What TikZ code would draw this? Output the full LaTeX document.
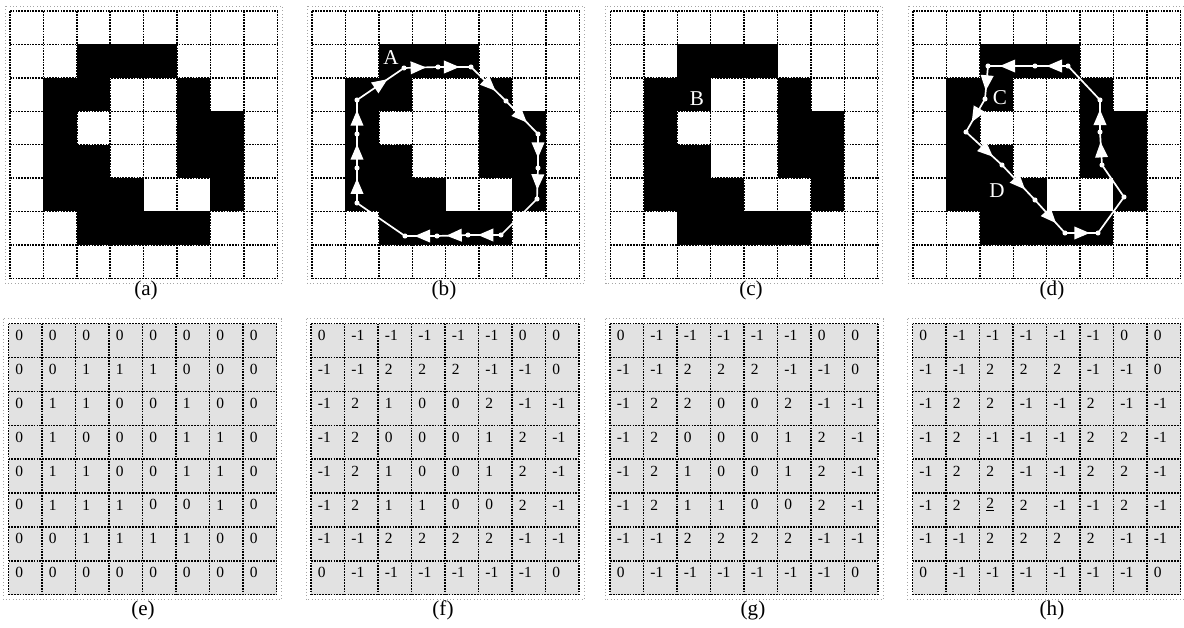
\documentclass[tikz,border=0pt]{standalone}
\usepackage{fontspec}
\setmainfont{Liberation Serif}
\usepackage{xcolor}
\usepackage{tikz}
\usetikzlibrary{arrows.meta, decorations.markings}
\definecolor{framegray}{RGB}{165, 165, 165}
\definecolor{cellgray}{RGB}{226, 226, 226}

% values written in the lower grids (e)-(h)
\newcommand{\valsE}{{0,0,0,0,0,0,0,0},{0,0,1,1,1,0,0,0},{0,1,1,0,0,1,0,0},{0,1,0,0,0,1,1,0},%
  {0,1,1,0,0,1,1,0},{0,1,1,1,0,0,1,0},{0,0,1,1,1,1,0,0},{0,0,0,0,0,0,0,0}}
\newcommand{\valsF}{{0,-1,-1,-1,-1,-1,0,0},{-1,-1,2,2,2,-1,-1,0},{-1,2,1,0,0,2,-1,-1},{-1,2,0,0,0,1,2,-1},%
  {-1,2,1,0,0,1,2,-1},{-1,2,1,1,0,0,2,-1},{-1,-1,2,2,2,2,-1,-1},{0,-1,-1,-1,-1,-1,-1,0}}
\newcommand{\valsG}{{0,-1,-1,-1,-1,-1,0,0},{-1,-1,2,2,2,-1,-1,0},{-1,2,2,0,0,2,-1,-1},{-1,2,0,0,0,1,2,-1},%
  {-1,2,1,0,0,1,2,-1},{-1,2,1,1,0,0,2,-1},{-1,-1,2,2,2,2,-1,-1},{0,-1,-1,-1,-1,-1,-1,0}}
\newcommand{\valsH}{{0,-1,-1,-1,-1,-1,0,0},{-1,-1,2,2,2,-1,-1,0},{-1,2,2,-1,-1,2,-1,-1},{-1,2,-1,-1,-1,2,2,-1},%
  {-1,2,2,-1,-1,2,2,-1},{-1,2,\underline{2},2,-1,-1,2,-1},{-1,-1,2,2,2,2,-1,-1},{0,-1,-1,-1,-1,-1,-1,0}}

\tikzset{
  gridline/.style={black, line width=1pt, dash pattern=on 1.2pt off 0.8pt},
  outerframe/.style={framegray, line width=0.4pt, dotted},
  trace/.style={white, line width=1.2pt},
  midarrow/.style={postaction={decorate}, decoration={markings,
      mark=at position #1 with {\arrow{Triangle[length=11pt, width=9pt]}}}},
  midarrow/.default=0.6,
  cellnum/.style={anchor=west, inner sep=0pt, font=\fontsize{11}{11}\selectfont},
  sublabel/.style={inner sep=0pt, font=\fontsize{15}{15}\selectfont},
  pointlabel/.style={white, inner sep=0pt, font=\fontsize{15}{15}\selectfont},
}

\begin{document}
\begin{tikzpicture}[x=0.025cm, y=-0.025cm]
  \fill[white] (0,0) rectangle (1184,627);
  \useasboundingbox (0,0) rectangle (1184,627);

  % upper row: the binary image, four times
  \foreach \gx/\lab/\lx in {10/a/146, 312/b/444, 610.5/c/751, 913/d/1052} {
    \draw[outerframe] ({\gx-5},6) rectangle ({\gx+272.2},283.2);
    \foreach \r/\c in {1/2,1/3,1/4, 2/1,2/2,2/5, 3/1,3/5,3/6, 4/1,4/2,4/5,4/6,
                       5/1,5/2,5/3,5/6, 6/2,6/3,6/4,6/5}
      \fill[black] ({\gx+\c*33.4},{11+\r*33.4}) rectangle ++(33.4,33.4);
    \foreach \k in {0,...,8} {
      \draw[gridline] ({\gx+\k*33.4},11) -- ++(0,267.2);
      \draw[gridline] (\gx,{11+\k*33.4}) -- ++(267.2,0);
    }
    \node[sublabel] (cap\lab) at (\lx,290) {(\lab)};
  }

  % lower row: grids of values
  \foreach \gx/\lab/\lx/\mat in {8.5/e/143/E, 311/f/443/F, 610/g/753/G, 912.5/h/1052/H} {
    \draw[outerframe] ({\gx-5},318.5) rectangle ({\gx+273},599.7);
    \fill[cellgray] (\gx,323.5) rectangle ++(268,271.2);
    \foreach \k in {0,...,8} {
      \draw[gridline] ({\gx+\k*33.5},323.5) -- ++(0,271.2);
      \draw[gridline] (\gx,{323.5+\k*33.9}) -- ++(268,0);
    }
    \expandafter\let\expandafter\cellvals\csname vals\mat\endcsname
    \foreach \rowvals [count=\r from 0] in \cellvals
      \foreach \v [count=\c from 0] in \rowvals
        \node[cellnum] (n\lab\r\c) at ({\gx+\c*33.5+6.7},{323.5+\r*33.9+11.9}) {\v};
    \node[sublabel] (cap\lab) at (\lx,610) {(\lab)};
  }

  % contour traced in (b)
  \coordinate (b1) at (404,68);
  \coordinate (b2) at (438,67);
  \coordinate (b3) at (471,67);
  \coordinate (b4) at (506,101);
  \coordinate (b5) at (538,134);
  \coordinate (b6) at (538,168);
  \coordinate (b7) at (537,199);
  \coordinate (b8) at (501,235);
  \coordinate (b9) at (468,235);
  \coordinate (b10) at (437,236);
  \coordinate (b11) at (405,236);
  \coordinate (b12) at (357,203);
  \coordinate (b13) at (357,168);
  \coordinate (b14) at (357,134);
  \coordinate (b15) at (357,100);
  \foreach \s/\t/\p in {b1/b2/0.65, b2/b3/0.65, b3/b4/0.7, b4/b5/0.65, b5/b6/0.7,
                        b6/b7/0.7, b8/b9/0.7, b9/b10/0.7, b10/b11/0.7,
                        b12/b13/0.7, b13/b14/0.7, b14/b15/0.7, b15/b1/0.65}
    \draw[trace, midarrow=\p] (\s) -- (\t);
  \draw[trace] (b7) -- (b8);
  \draw[trace] (b11) -- (b12);
  \foreach \i in {1,...,15}
    \fill[white] (b\i) circle (1.8pt);
  \node[pointlabel] (ptA) at (391,58) {A};

  % mark in (c)
  \node[pointlabel] (ptB) at (697,99) {B};

  % contour traced in (d)
  \coordinate (d1) at (1068,66);
  \coordinate (d2) at (1035,66);
  \coordinate (d3) at (988,66);
  \coordinate (d4) at (985,99);
  \coordinate (d5) at (966,132);
  \coordinate (d6) at (1002,165);
  \coordinate (d7) at (1035,200);
  \coordinate (d8) at (1065,233);
  \coordinate (d9) at (1098,233);
  \coordinate (d10) at (1124,197);
  \coordinate (d11) at (1102,165);
  \coordinate (d12) at (1100,132);
  \coordinate (d13) at (1100,100);
  \foreach \s/\t/\p in {d1/d2/0.65, d2/d3/0.75, d3/d4/0.75, d4/d5/0.7, d5/d6/0.75,
                        d6/d7/0.7, d7/d8/0.7, d8/d9/0.75, d11/d12/0.7, d12/d13/0.7}
    \draw[trace, midarrow=\p] (\s) -- (\t);
  \draw[trace] (d9) -- (d10) -- (d11);
  \draw[trace] (d13) -- (d1);
  \foreach \i in {1,...,13}
    \fill[white] (d\i) circle (1.8pt);
  \node[pointlabel] (ptC) at (1000,98) {C};
  \node[pointlabel] (ptD) at (997,191) {D};
\end{tikzpicture}
\end{document}
